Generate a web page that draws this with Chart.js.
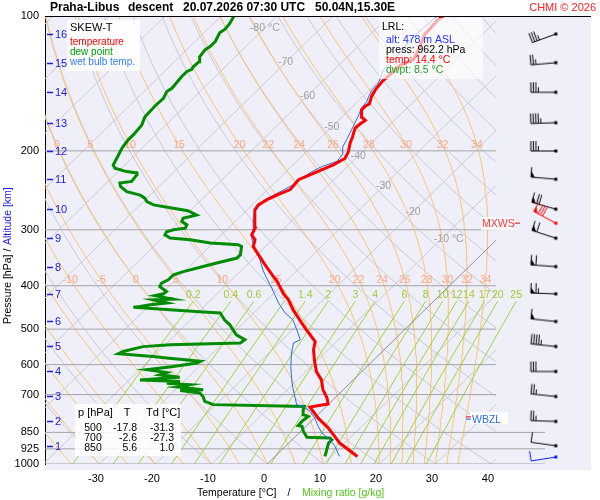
<!DOCTYPE html>
<html>
<head>
<meta charset="utf-8">
<script src="https://cdn.jsdelivr.net/npm/chart.js@4.4.1/dist/chart.umd.min.js"></script>
<style>
  html, body { margin: 0; padding: 0; background: #fff; }
</style>
</head>
<body>
<canvas id="skewt" width="600" height="500"></canvas>
<script>
const FONT = '"Liberation Sans", Arial, sans-serif';

// ---- sounding Praha-Libus, descent 20.07.2026 07:30 UTC ----
const tempP = [962, 898, 868, 831, 790, 746, 735, 712, 683, 649, 622, 590, 556, 533, 502, 477, 453, 430, 416, 391,
  378, 359, 341, 327, 316, 308, 298, 285, 271, 264, 257, 251, 244, 232, 226, 220.5, 215, 208, 201, 192,
  186, 178, 174, 171, 168, 162, 159, 157, 151, 146, 140, 134, 129, 125, 117, 110, 106.5, 102.4, 100];
const tempT = [14.7, 9.1, 7.0, 4.3, 0.7, -2.8, -0.1, -1.4, -3.6, -5.7, -8.1, -10.3, -12.6, -13.8, -17.5, -20.5, -23.5, -26.2, -28.3, -31.6,
  -33.7, -36.8, -39.8, -42.2, -43.1, -44.6, -45.2, -46.8, -48.6, -48.9, -48.3, -47.4, -46.0, -46.3, -45.1, -44.0, -42.8, -41.9, -42.5, -43.8,
  -44.5, -45.6, -45.5, -45.2, -46.5, -47.8, -47.8, -47.5, -48.5, -49.0, -49.3, -49.1, -49.1, -47.7, -48.9, -50.3, -50.4, -50.6, -50.4];

const dewP = [962, 929, 898, 883, 875, 872, 846, 824, 821, 803.5, 783, 776, 757, 744, 737, 725, 707, 694.5, 685, 683,
  673, 665, 660, 654, 649, 643, 640, 632, 625, 616, 606, 595, 590, 580, 575.5, 567.5, 561, 547, 542, 537,
  528, 515, 502, 489, 477, 460, 457, 453, 447, 445, 441, 437, 430, 428.5, 421, 417, 412, 401.6, 394.7, 388,
  378, 372, 362.5, 356, 347, 341, 327, 324, 321, 316, 313, 308, 303, 300, 297.6, 292.6, 287.7, 282.7, 278, 272,
  268.5, 264, 259.6, 255, 251, 246.6, 240, 236, 234, 226, 224, 222.5, 218.6, 215, 204, 197, 189, 184, 175, 168,
  162, 159, 152.6, 147.5, 145, 136.6, 133, 131.5, 130, 126.5, 123.3, 119, 117, 114, 109, 107, 104, 100];
const dewT = [8.9, 8.0, 7.1, 7.1, 6.4, 2.2, 0.5, -0.7, -1.5, -1.6, -1.4, -2.6, -3.5, -3.9, -20.5, -22.6, -23.8, -25.0, -29.0, -25.0,
  -30.2, -28.3, -32.7, -30.7, -38.1, -33.7, -31.5, -35.5, -34.7, -38.7, -34.6, -31.0, -30.7, -37.3, -40.0, -46.7, -46.3, -43.6, -39.1, -26.9,
  -26.7, -29.1, -30.6, -32.1, -33.9, -36.0, -39.9, -44.9, -52.5, -51.5, -50.0, -47.3, -50.3, -46.9, -50.8, -49.6, -49.5, -51.6, -51.9, -51.3,
  -51.3, -50.1, -47.5, -45.7, -43.0, -43.0, -44.3, -45.2, -50.5, -54.7, -58.6, -60.1, -60.4, -59.5, -57.7, -58.0, -59.5, -59.9, -58.1, -60.4,
  -63.5, -67.6, -69.4, -70.4, -71.8, -74.8, -76.9, -77.6, -75.8, -76.1, -76.4, -78.5, -81.2, -82.1, -83.0, -83.6, -84.0, -84.0, -84.3, -85.2,
  -85.3, -85.4, -85.3, -85.9, -85.6, -86.0, -86.0, -85.5, -85.7, -85.6, -86.4, -86.7, -86.4, -86.4, -87.2, -86.9, -87.1, -87.7];

const wetP = [962, 914, 883, 853, 824, 790, 763, 744, 737, 707, 677, 649, 606, 566, 537, 528, 502, 477, 460, 437,
  405, 385, 369, 350, 336, 321, 311, 298, 285, 273, 257, 249, 238, 234, 222.5, 217, 211, 204, 196, 189,
  177, 166, 161, 155, 151, 146, 141, 132, 123, 113, 106.5, 100.4];
const wetT = [11.5, 8.9, 6.8, 4.1, 2.2, 0.1, -2.0, -4.1, -5.6, -7.4, -9.3, -11.0, -13.6, -15.9, -17.4, -16.8, -19.2, -21.7, -24.4, -27.4,
  -31.3, -34.0, -36.2, -38.6, -40.7, -42.9, -44.3, -45.5, -47.1, -48.4, -48.6, -47.7, -46.3, -46.3, -45.4, -44.6, -42.8, -43.1, -44.4, -45.0,
  -46.2, -47.4, -48.1, -48.4, -49.0, -49.6, -49.7, -51.2, -51.2, -51.9, -51.7, -51.4];

// altitude marks and winds (one barb per km)
const altKm = [1, 2, 3, 4, 5, 6, 7, 8, 9, 10, 11, 12, 13, 14, 15, 16];
const altP = [910.3, 803.5, 706.7, 621.5, 546.6, 480.7, 417.0, 362.5, 313.2, 269.9, 231.4, 200.1, 173.0, 148.0, 127.1, 109.7];
const windDir = [278, 272, 276, 270, 276, 276, 272, 274, 288, 286, 275, 270, 268, 270, 265, 250];
const windKt = [10, 25, 25, 30, 45, 50, 65, 60, 60, 70, 50, 35, 45, 35, 25, 35];
const mxwsP = 290, mxwsDir = 298, mxwsKt = 80;
const sfcP = 964.7, sfcDir = 261, sfcKt = 10;
const zeroP = 785, wbzlP = 794;

// lowest release level and the small table
const lrlAlt = 478, lrlPress = 962.2, lrlTemp = 14.4, lrlDwpt = 8.5;
const tableP = [500, 700, 850];
const tableT = [-17.8, -2.6, 5.6];
const tableTd = [-31.3, -27.3, 1.0];

// axes and reference lines
const pressTicks = [100, 200, 300, 400, 500, 600, 700, 850, 925, 1000];
const tempTicks = [-30, -20, -10, 0, 10, 20, 30, 40];
const longLevels = [850, 925, 1000];
const isoT = [-130, -120, -110, -100, -90, -80, -70, -60, -50, -40, -30, -20, -10, 0, 10, 20, 30, 40];
const isoLabelT = [-80, -70, -60, -50, -40, -30, -20, -10];
const dryTheta = [-40, -30, -20, -10, 0, 10, 20, 30, 40, 50, 60, 70, 80, 90, 100, 110, 120, 130, 140, 150, 160, 170, 180, 190, 200];
const moistThetaW = [-40, -35, -30, -25, -20, -15, -10, -5, 0, 5, 10, 15, 20, 22, 24, 26, 28, 30, 32, 34];
const mixRatio = [0.2, 0.4, 0.6, 1, 1.4, 2, 3, 4, 6, 8, 10, 12, 14, 17, 20, 25];

// ---- geometry of the diagram ----
const SKEW = 35.5;                 // °C shift per ln(1000/p)
const X_MIN = -39.71, X_MAX = 57.61;
const GRID_MAX = 40.82;            // right edge of the thermodynamic grid
const LONG_MAX = 49.57;            // 850..1000 hPa lines run on to the barbs
const BARB_X = 51.5;
const MIX_TOP = 433;
const isoLabelP = [106.4, 127.0, 150.8, 176.8, 205.2, 239.5, 273.6, 314.4];
const LABEL_LIFT = Math.exp(-6 / 194.7);   // label row sits 6 px above its level

function skewX(t, p) { return t + SKEW * Math.log(1000 / p); }
function esat(tc) { return 6.112 * Math.exp(17.67 * tc / (tc + 243.5)); }

function clipRight(points, xMax) {
  const out = [];
  for (let i = 0; i < points.length; i++) {
    const cur = points[i], inside = cur.x <= xMax;
    if (i > 0) {
      const prev = points[i - 1], prevIn = prev.x <= xMax;
      if (inside !== prevIn) {
        const f = (xMax - prev.x) / (cur.x - prev.x);
        const p = Math.exp(Math.log(prev.y) + f * (Math.log(cur.y) - Math.log(prev.y)));
        out.push({ x: xMax, y: p });
        if (!inside) out.push({ x: xMax, y: null });
      }
    }
    if (inside) out.push(cur);
  }
  return out;
}

function profile(P, T) { return P.map((p, i) => ({ x: skewX(T[i], p), y: p })); }

function dryLine(th) {
  const pts = [];
  for (let i = 0; i <= 36; i++) {
    const p = 1000 * Math.pow(10, -i / 36);
    pts.push({ x: skewX((th + 273.15) * Math.pow(p / 1000, 0.2857) - 273.15, p), y: p });
  }
  return pts;
}

function moistLine(tw) {
  const f = (p, T) => {
    const es = esat(T - 273.15), rs = 0.622 * es / (p - es);
    return (287.04 * T + 2.501e6 * rs) / (1005.7 + 2.501e6 * 2.501e6 * rs * 0.622 / (287.04 * T * T)) / p;
  };
  let T = tw + 273.15, p = 1000;
  const pts = [{ t: tw, p: 1000 }];
  const h = -5;
  for (let k = 1; k <= 180; k++) {
    const k1 = f(p, T), k2 = f(p + h / 2, T + h / 2 * k1), k3 = f(p + h / 2, T + h / 2 * k2), k4 = f(p + h, T + h * k3);
    T += h / 6 * (k1 + 2 * k2 + 2 * k3 + k4);
    p = 1000 + h * k;
    if (k % 2 === 0) pts.push({ t: T - 273.15, p: p });
  }
  return pts;
}

function curveAt(pts, p) {
  for (let i = 1; i < pts.length; i++) {
    const a = pts[i - 1], b = pts[i];
    if (p <= a.p && p >= b.p) {
      const f = Math.log(a.p / p) / Math.log(a.p / b.p);
      return a.t + f * (b.t - a.t);
    }
  }
  return null;
}

function mixLine(w) {
  const levels = [1000, 925, 850, 775, 700, 625, 550, 490, MIX_TOP];
  return levels.map(p => {
    const e = w * p / (622 + w), l = Math.log(e / 6.112);
    return { x: skewX(243.5 * l / (17.67 - l), p), y: p };
  });
}

function barbImage(dir, kt, color) {
  const c = document.createElement('canvas');
  c.width = 72; c.height = 48;
  const g = c.getContext('2d');
  const cx = 36, cy = 24, len = 25;
  const a = dir * Math.PI / 180;
  const ux = Math.sin(a), uy = -Math.cos(a);
  const nx = -uy, ny = ux;
  const at = (k, h) => [cx + ux * k + nx * h, cy + uy * k + ny * h];
  g.strokeStyle = color; g.fillStyle = color; g.lineWidth = 1;
  g.beginPath(); g.moveTo(cx, cy); g.lineTo(...at(len, 0)); g.stroke();
  g.fillRect(cx - 1.5, cy - 1.5, 3, 3);
  let d = len, rest = Math.round(kt / 5) * 5;
  while (rest >= 50) {
    g.beginPath(); g.moveTo(...at(d, 0)); g.lineTo(...at(d, 10)); g.stroke();
    g.beginPath(); g.moveTo(...at(d, 0)); g.lineTo(...at(d, 6)); g.lineTo(...at(d - 4, 0)); g.closePath(); g.fill();
    d -= 5; rest -= 50;
  }
  while (rest >= 10) {
    g.beginPath(); g.moveTo(...at(d, 0)); g.lineTo(...at(d, 10)); g.stroke();
    d -= 2.5; rest -= 10;
  }
  if (rest >= 5) {
    g.beginPath(); g.moveTo(...at(d, 0)); g.lineTo(...at(d, 5)); g.stroke();
  }
  return c;
}

// ---- datasets ----
const datasets = [];
function addLine(points, color, width, order) {
  datasets.push({ data: points, showLine: true, borderColor: color, borderWidth: width,
    pointRadius: 0, pointHitRadius: 0, spanGaps: false, order: order });
}

isoT.forEach(t => {
  addLine(clipRight([{ x: skewX(t, 1000), y: 1000 }, { x: skewX(t, 100), y: 100 }], GRID_MAX),
    t === 0 ? '#7a7a7a' : '#cacad4', t === 0 ? 0.8 : 1, t === 0 ? 5 : 10);
});
dryTheta.forEach(th => addLine(clipRight(dryLine(th), GRID_MAX), '#cacad4', 1, 9));

const moistLines = moistThetaW.map(tw => ({ tw: tw, pts: moistLine(tw) }));
moistLines.forEach(m => addLine(clipRight(m.pts.map(q => ({ x: skewX(q.t, q.p), y: q.p })), GRID_MAX), '#ffc46c', 1, 8));

mixRatio.forEach(w => addLine(mixLine(w), '#a2d43c', 1, 7));

pressTicks.filter(p => p > 100).forEach(p => {
  const xr = longLevels.includes(p) ? LONG_MAX : GRID_MAX;
  addLine([{ x: X_MIN, y: p }, { x: xr, y: p }], '#a3a3a8', 1, 6);
});

addLine(profile(dewP, dewT), '#008c00', 3, 3);
addLine(profile(wetP, wetT), '#2a6fe0', 1, 2);
addLine(profile(tempP, tempT), '#ff0000', 3, 1);

const barbP = altP.concat([mxwsP, sfcP]);
const barbImgs = altP.map((p, i) => barbImage(windDir[i], windKt[i], '#000'))
  .concat([barbImage(mxwsDir, mxwsKt, '#ff0000'), barbImage(sfcDir, sfcKt, '#0022ee')]);
datasets.push({ data: barbP.map(p => ({ x: BARB_X, y: p })), showLine: false,
  pointStyle: barbImgs, pointRadius: 6, order: 0 });

// ---- drawing helpers ----
function txt(ctx, s, x, y, color, size, align, weight) {
  ctx.font = (weight || '') + ' ' + size + 'px ' + FONT;
  ctx.fillStyle = color;
  ctx.textAlign = align || 'left';
  ctx.textBaseline = 'middle';
  ctx.fillText(s, x, y);
}

const background = {
  id: 'background',
  beforeDraw(chart) {
    const { ctx, chartArea: a } = chart;
    ctx.save();
    ctx.fillStyle = '#efeffa';
    ctx.fillRect(a.left, a.top, a.right - a.left + 1, a.bottom - a.top + 6);
    ctx.restore();
  }
};

let labelsDone = false;
const gridLabels = {
  id: 'gridLabels',
  beforeDatasetsDraw() { labelsDone = false; },
  beforeDatasetDraw(chart, args) {
    if (labelsDone || args.meta.order > 3) return;
    labelsDone = true;
    const { ctx, scales: { x, y } } = chart;
    ctx.save();
    // isotherm labels
    isoLabelT.forEach((t, i) => {
      const p = isoLabelP[i];
      const px = x.getPixelForValue(skewX(t, p)), py = y.getPixelForValue(p);
      if (t === -80) {
        txt(ctx, t + ' °C', px, py, '#a0a0a0', 10.5, 'center');
      } else if (t === -10) {
        ctx.font = '10.5px ' + FONT;
        const w = ctx.measureText(String(t)).width;
        txt(ctx, t + ' °C', px - w / 2, py, '#a0a0a0', 10.5, 'left');
      } else {
        txt(ctx, String(t), px, py, '#a0a0a0', 10.5, 'center');
      }
    });
    // pseudo-adiabat labels just above 200 and 400 hPa
    moistLines.forEach(m => {
      [200, 400].forEach(lp => {
        const pl = lp * LABEL_LIFT;
        const t = curveAt(m.pts, pl);
        if (t === null) return;
        const s = skewX(t, pl);
        if (s > GRID_MAX - 1) return;
        const px = x.getPixelForValue(s);
        if (px < 49) return;
        txt(ctx, String(m.tw), px, y.getPixelForValue(pl), '#ffa585', 10.5, 'center');
      });
    });
    // mixing ratio labels on top of their lines
    mixRatio.forEach(w => {
      const top = mixLine(w).slice(-1)[0];
      txt(ctx, String(w), x.getPixelForValue(top.x), y.getPixelForValue(top.y) - 6, '#9ccc33', 10.5, 'center');
    });
    ctx.restore();
  }
};

const overlay = {
  id: 'overlay',
  afterDatasetsDraw(chart) {
    const { ctx, chartArea: a, scales: { x, y } } = chart;
    ctx.save();
    ctx.strokeStyle = '#000'; ctx.lineWidth = 1;
    ctx.beginPath(); ctx.moveTo(a.left, a.top + 0.5); ctx.lineTo(a.right + 1, a.top + 0.5); ctx.stroke();

    // altitude marks
    altKm.forEach((km, i) => {
      const py = Math.round(y.getPixelForValue(altP[i])) + 0.5;
      ctx.strokeStyle = '#2020e0'; ctx.lineWidth = 1.5;
      ctx.beginPath(); ctx.moveTo(a.left + 2, py); ctx.lineTo(a.left + 8, py); ctx.stroke();
      txt(ctx, String(km), a.left + 10, py, '#2020e0', 11);
    });

    // legend
    ctx.fillStyle = 'rgba(255,255,255,0.9)';
    ctx.fillRect(67, 20, 73, 51);
    txt(ctx, 'SKEW-T', 70, 28, '#000', 11);
    txt(ctx, 'temperature', 70, 42, '#ff0000', 10);
    txt(ctx, 'dew point', 70, 52, '#00a000', 10);
    txt(ctx, 'wet bulb temp.', 70, 62, '#3380ff', 10);

    // lowest release level box
    ctx.fillStyle = 'rgba(255,255,255,0.65)';
    ctx.fillRect(379, 18, 104, 61);
    txt(ctx, 'LRL:', 382, 27, '#000', 10.5);
    txt(ctx, 'alt: ' + lrlAlt + ' m ASL', 386, 40, '#2233ff', 10.5);
    txt(ctx, 'press: ' + lrlPress.toFixed(1) + ' hPa', 386, 50, '#000', 10.5);
    txt(ctx, 'temp: ' + lrlTemp.toFixed(1) + ' °C', 386, 60, '#ff0000', 10.5);
    txt(ctx, 'dwpt: ' + lrlDwpt.toFixed(1) + ' °C', 386, 70, '#22a022', 10.5);

    // standard level table
    ctx.fillStyle = 'rgba(255,255,255,0.85)';
    ctx.fillRect(75, 404, 106, 52);
    txt(ctx, 'p [hPa]', 78, 413, '#000', 11);
    txt(ctx, 'T', 127, 413, '#000', 11, 'center');
    txt(ctx, 'Td [°C]', 146, 413, '#000', 11);
    tableP.forEach((p, i) => {
      const ry = 428.5 + i * 10;
      txt(ctx, String(p), 93, ry, '#000', 10.5, 'center');
      txt(ctx, tableT[i].toFixed(1), 137, ry, '#000', 10.5, 'right');
      txt(ctx, tableTd[i].toFixed(1), 174, ry, '#000', 10.5, 'right');
    });

    // max wind and wet bulb zero marks
    const my = y.getPixelForValue(mxwsP);
    ctx.fillStyle = 'rgba(255,255,255,0.85)';
    ctx.fillRect(481, my - 6, 32, 13);
    txt(ctx, 'MXWS', 482, my + 1, '#ff3030', 10.5);
    ctx.strokeStyle = '#ff0000'; ctx.lineWidth = 1;
    ctx.beginPath(); ctx.moveTo(515, my); ctx.lineTo(520, my); ctx.stroke();

    const zy = y.getPixelForValue(zeroP), wy = y.getPixelForValue(wbzlP);
    ctx.fillStyle = 'rgba(255,255,255,0.85)';
    ctx.fillRect(470, zy - 5, 38, 12);
    ctx.strokeStyle = '#ff0000';
    ctx.beginPath(); ctx.moveTo(466, zy); ctx.lineTo(471, zy); ctx.stroke();
    ctx.strokeStyle = '#2060ff';
    ctx.beginPath(); ctx.moveTo(466, wy); ctx.lineTo(471, wy); ctx.stroke();
    txt(ctx, 'WBZL', 472, wy + 1, '#2a6fe0', 10.5);

    // title
    txt(ctx, 'Praha-Libus', 50, 8, '#000', 12, 'left', 'bold');
    txt(ctx, 'descent', 128, 8, '#000', 12, 'left', 'bold');
    txt(ctx, '20.07.2026 07:30 UTC', 183, 8, '#000', 12, 'left', 'bold');
    txt(ctx, '50.04N,15.30E', 315, 8, '#000', 12, 'left', 'bold');
    txt(ctx, 'CHMI © 2026', 596, 8, '#ff2020', 11, 'right');

    // axis titles
    txt(ctx, 'Temperature [°C]', 197, 493, '#000', 10.5);
    txt(ctx, '/', 289, 493, '#000', 10.5, 'center');
    txt(ctx, 'Mixing ratio [g/kg]', 302, 493, '#55c41e', 10.5);
    ctx.translate(8, 0);
    ctx.rotate(-Math.PI / 2);
    txt(ctx, 'Pressure [hPa]', -324, 0, '#000', 10.5);
    txt(ctx, '/', -250, 0, '#000', 10.5, 'center');
    txt(ctx, 'Altitude [km]', -245, 0, '#2020e0', 10.5);
    ctx.restore();
  }
};

new Chart(document.getElementById('skewt'), {
  type: 'scatter',
  data: { datasets: datasets },
  options: {
    responsive: false,
    animation: false,
    events: [],
    layout: { padding: { top: 16, right: 10, left: 0, bottom: 0 } },
    plugins: { legend: { display: false }, tooltip: { enabled: false } },
    scales: {
      x: {
        type: 'linear', min: X_MIN, max: X_MAX,
        afterBuildTicks: s => { s.ticks = tempTicks.map(v => ({ value: v })); },
        afterFit: s => { s.height = 36; },
        grid: { display: false, drawTicks: false },
        border: { display: false },
        ticks: { color: '#000', font: { family: FONT, size: 11 }, padding: 8, labelOffset: -3.4,
          maxRotation: 0, autoSkip: false, callback: v => String(v) }
      },
      y: {
        type: 'logarithmic', min: 100, max: 1000, reverse: true,
        afterBuildTicks: s => { s.ticks = pressTicks.map(v => ({ value: v })); },
        afterFit: s => { s.width = 45; },
        grid: { display: false, drawTicks: false },
        border: { display: true, color: '#000', width: 1 },
        ticks: { color: '#000', font: { family: FONT, size: 11 }, padding: 6, autoSkip: false,
          callback: v => String(v) }
      }
    }
  },
  plugins: [background, gridLabels, overlay]
});
</script>
</body>
</html>
